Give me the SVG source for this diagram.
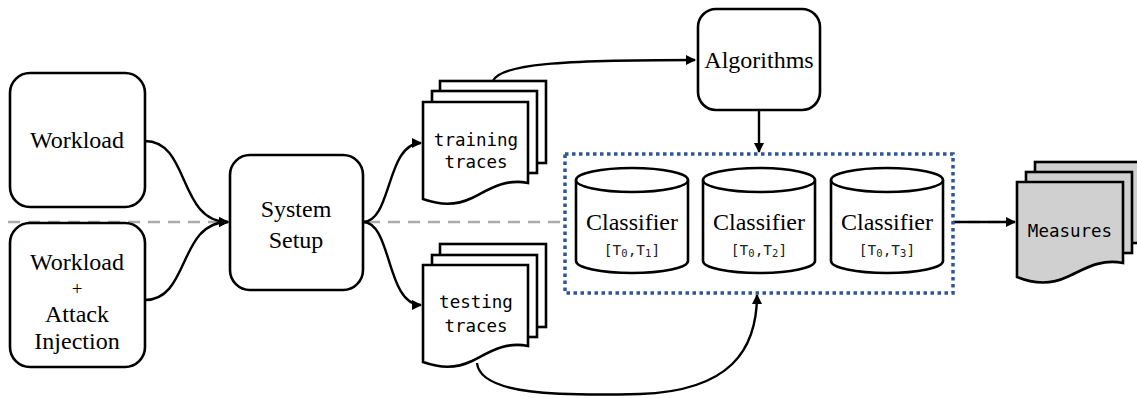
<svg xmlns="http://www.w3.org/2000/svg" width="1137" height="398" viewBox="0 0 1137 398">
<style>
.box{fill:#fff;stroke:#000;stroke-width:2.6}
.doc{fill:#fff;stroke:#000;stroke-width:2.6;stroke-linejoin:miter}
.gdoc{fill:#d0d0d0;stroke:#000;stroke-width:2.6}
.serif{font-family:"Liberation Serif","Times New Roman",serif;font-size:24px;fill:#000;text-anchor:middle}
.mono{font-family:"DejaVu Sans Mono","Liberation Mono",monospace;font-size:17.5px;fill:#000;text-anchor:middle}
.sub{font-family:"DejaVu Sans Mono","Liberation Mono",monospace;font-size:14.5px;fill:#222;text-anchor:middle}
.s{font-size:10.5px}
.conn{fill:none;stroke:#000;stroke-width:2.4}
</style>
<defs>
<marker id="arr" viewBox="0 0 10 10" refX="9" refY="5" markerWidth="4.2" markerHeight="4.2" orient="auto" markerUnits="strokeWidth">
<path d="M0,0 L10,5 L0,10 z" fill="#000"/>
</marker>
</defs>
<line x1="8" y1="222" x2="1015" y2="222" stroke="#aaaaaa" stroke-width="2.5" stroke-dasharray="12 8"/>
<g id="connectors">
<path class="conn" d="M145,141 C190,141 178,222 228,222" marker-end="url(#arr)"/>
<path class="conn" d="M145,300 C190,300 178,222 228,222" marker-end="url(#arr)"/>
<path class="conn" d="M363,222 C392,222 386,143 421,143" marker-end="url(#arr)"/>
<path class="conn" d="M363,222 C392,222 386,305 421,305" marker-end="url(#arr)"/>
<path class="conn" d="M493,81 C500,64 560,60 695,60" marker-end="url(#arr)"/>
<path class="conn" d="M759,110 V152" marker-end="url(#arr)"/>
<path class="conn" d="M477,363 C480,395 560,396 640,394 C730,391 757,350 757,295" marker-end="url(#arr)"/>
<path class="conn" d="M953,222 H1015" marker-end="url(#arr)"/>
</g>
<g id="workload">
<rect class="box" x="10" y="73" width="135" height="134" rx="20"/>
<text class="serif" x="77" y="148">Workload</text>
</g>
<g id="workload-attack">
<rect class="box" x="10" y="223" width="135" height="144" rx="20"/>
<text class="serif" x="77" y="270">Workload</text>
<text class="serif" x="77" y="295" style="font-size:19px">+</text>
<text class="serif" x="77" y="322">Attack</text>
<text class="serif" x="77" y="349">Injection</text>
</g>
<g id="system-setup">
<rect class="box" x="230" y="155" width="133" height="135" rx="20"/>
<text class="serif" x="296" y="217">System</text>
<text class="serif" x="296" y="248">Setup</text>
</g>
<g id="training-traces">
<rect class="doc" x="440" y="81" width="106" height="82"/>
<rect class="doc" x="432" y="91" width="105" height="82"/>
<path class="doc" d="M423,102 H528 V183 C505,178 488,190 472,198 C455,206 440,205 423,199 Z"/>
<text class="mono" x="476" y="146">training</text>
<text class="mono" x="476" y="168">traces</text>
</g>
<g id="testing-traces">
<rect class="doc" x="440" y="244" width="106" height="83"/>
<rect class="doc" x="432" y="255" width="105" height="82"/>
<path class="doc" d="M423,265 H528 V346 C505,341 488,353 472,361 C455,369 440,368 423,362 Z"/>
<text class="mono" x="476" y="308">testing</text>
<text class="mono" x="476" y="332">traces</text>
</g>
<g id="algorithms">
<rect class="box" x="698" y="9" width="122" height="101" rx="18"/>
<text class="serif" x="759" y="68">Algorithms</text>
</g>
<g id="classifiers">
<rect x="565" y="154" width="388" height="139" fill="#fff" stroke="#2E5597" stroke-width="3.5" stroke-dasharray="3.5 3.5"/>
<g id="classifier-1">
<path class="box" d="M576,180 A56,12 0 0 1 688,180 V261 A56,12 0 0 1 576,261 Z"/>
<path class="conn" d="M576,180 A56,12 0 0 0 688,180" stroke-width="2.6"/>
<text class="serif" x="632" y="230">Classifier</text>
<text class="sub" x="632" y="255">[T<tspan class="s" dy="2">0</tspan><tspan dy="-2">,T</tspan><tspan class="s" dy="2">1</tspan><tspan dy="-2">]</tspan></text>
</g>
<g id="classifier-2">
<path class="box" d="M703,180 A56,12 0 0 1 815,180 V261 A56,12 0 0 1 703,261 Z"/>
<path class="conn" d="M703,180 A56,12 0 0 0 815,180" stroke-width="2.6"/>
<text class="serif" x="759" y="230">Classifier</text>
<text class="sub" x="759" y="255">[T<tspan class="s" dy="2">0</tspan><tspan dy="-2">,T</tspan><tspan class="s" dy="2">2</tspan><tspan dy="-2">]</tspan></text>
</g>
<g id="classifier-3">
<path class="box" d="M831,180 A56,12 0 0 1 943,180 V261 A56,12 0 0 1 831,261 Z"/>
<path class="conn" d="M831,180 A56,12 0 0 0 943,180" stroke-width="2.6"/>
<text class="serif" x="887" y="230">Classifier</text>
<text class="sub" x="887" y="255">[T<tspan class="s" dy="2">0</tspan><tspan dy="-2">,T</tspan><tspan class="s" dy="2">3</tspan><tspan dy="-2">]</tspan></text>
</g>
</g>
<g id="measures">
<rect class="gdoc" x="1035" y="162" width="110" height="81"/>
<rect class="gdoc" x="1026" y="172" width="106" height="81"/>
<path class="gdoc" d="M1017,182 H1123 V263 C1100,258 1083,270 1067,277 C1050,285 1034,284 1017,277 Z"/>
<text class="mono" x="1070" y="237">Measures</text>
</g>
</svg>
